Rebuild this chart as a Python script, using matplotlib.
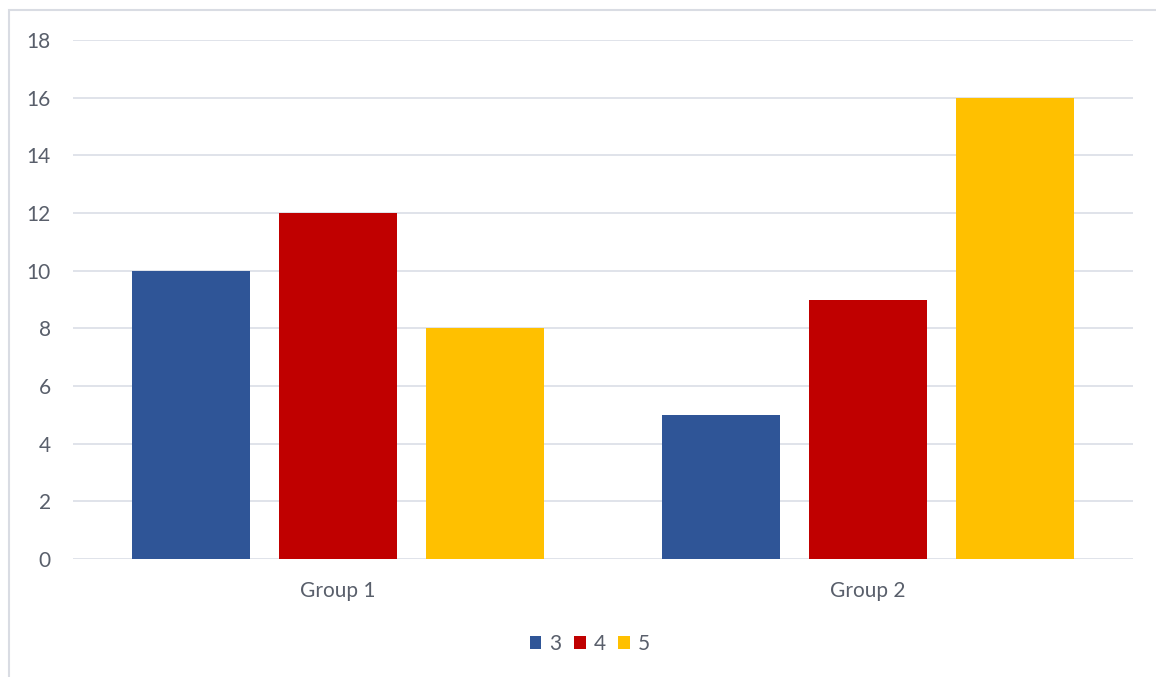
import matplotlib.pyplot as plt
import numpy as np
from matplotlib.patches import Rectangle

# Data
groups = ["Group 1", "Group 2"]
series_names = ["3", "4", "5"]
series_values = [
    [10, 5],   # series "3"
    [12, 9],   # series "4"
    [8, 16],   # series "5"
]
colors = ["#2F5597", "#C00000", "#FFC000"]
y_ticks = [0, 2, 4, 6, 8, 10, 12, 14, 16, 18]

TEXT_COLOR = "#595F6B"
GRID_COLOR = "#DDE1E8"

plt.rcParams["font.family"] = ["Lato", "DejaVu Sans"]

fig = plt.figure(figsize=(11.56, 6.77), dpi=100)
ax = fig.add_axes([73 / 1156, 1 - 559 / 677, (1133 - 73) / 1156, (559 - 40) / 677])

x = np.arange(len(groups))
bar_width = 0.223
step = 0.277
for i, (name, values) in enumerate(zip(series_names, series_values)):
    offset = (i - 1) * step
    ax.bar(x + offset, values, width=bar_width, color=colors[i], label=name, zorder=3)

ax.set_xlim(-0.5, len(groups) - 0.5)
ax.set_ylim(0, 18)
ax.set_yticks(y_ticks)
ax.set_xticks(x)
ax.set_xticklabels(groups)
ax.yaxis.grid(True, color=GRID_COLOR, linewidth=1.3, zorder=0)
ax.set_axisbelow(True)
for spine in ax.spines.values():
    spine.set_visible(False)
ax.tick_params(axis="both", length=0, colors=TEXT_COLOR, labelsize=15)
ax.tick_params(axis="y", pad=16)
ax.tick_params(axis="x", pad=16)

ax.legend(loc="center", bbox_to_anchor=(590 / 1156, 1 - 644 / 677),
          bbox_transform=fig.transFigure, ncol=3, frameon=False,
          handlelength=0.55, handleheight=0.55, handletextpad=0.4,
          columnspacing=0.6, fontsize=15, labelcolor=TEXT_COLOR)

# light chart-area frame like the source
fig.patches.append(Rectangle((9 / 1156, -0.01), 1.02, 1 - 10 / 677 + 0.01,
                             transform=fig.transFigure, fill=False,
                             edgecolor="#D9DCE3", linewidth=1.5))

fig.savefig("out.png", dpi=100)
